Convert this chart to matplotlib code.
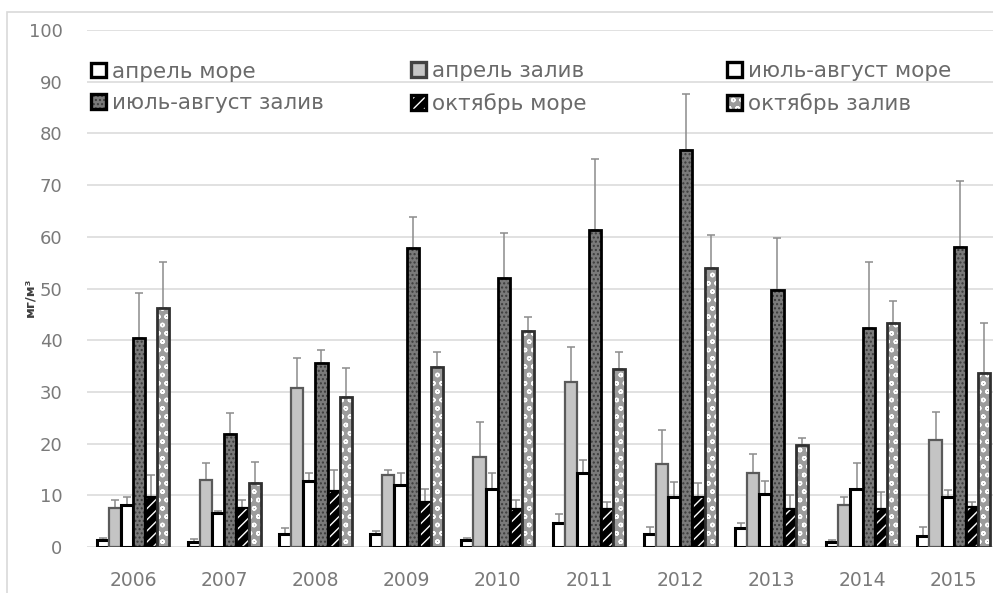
import matplotlib
matplotlib.use("Agg")
import matplotlib.pyplot as plt
import matplotlib.patches as mpatches
from matplotlib.legend_handler import HandlerTuple
import numpy as np

years = ["2006", "2007", "2008", "2009", "2010", "2011", "2012", "2013", "2014", "2015"]
series_names = ["апрель море", "апрель залив", "июль-август море",
                "июль-август залив", "октябрь море", "октябрь залив"]

apr_sea = [1.4, 1.0, 2.6, 2.6, 1.4, 4.6, 2.6, 3.6, 1.0, 2.1]
apr_sea_top = [1.8, 1.6, 3.6, 3.1, 1.7, 6.3, 3.9, 4.6, 1.3, 3.9]
apr_bay = [7.6, 13.0, 30.7, 13.9, 17.5, 32.0, 16.0, 14.4, 8.1, 20.7]
apr_bay_top = [9.1, 16.2, 36.6, 14.9, 24.2, 38.7, 22.6, 17.9, 9.7, 26.2]
jul_sea = [8.1, 6.5, 12.8, 11.9, 11.3, 14.4, 9.7, 10.2, 11.3, 9.7]
jul_sea_top = [9.6, 6.9, 14.3, 14.3, 14.3, 16.8, 12.6, 12.8, 16.2, 11.0]
jul_bay = [40.5, 21.8, 35.6, 57.9, 52.0, 61.3, 76.8, 49.8, 42.3, 58.1]
jul_bay_top = [49.2, 25.9, 38.1, 63.9, 60.8, 75.0, 87.6, 59.7, 55.2, 70.7]
oct_sea = [9.7, 7.6, 10.9, 8.8, 7.3, 7.3, 9.7, 7.3, 7.3, 7.7]
oct_sea_top = [13.9, 9.1, 14.9, 11.3, 9.1, 8.8, 12.4, 10.1, 10.7, 8.8]
oct_bay = [46.3, 12.3, 29.1, 34.9, 41.8, 34.4, 54.0, 19.7, 43.4, 33.6]
oct_bay_top = [55.1, 16.5, 34.6, 37.8, 44.5, 37.8, 60.3, 21.0, 47.5, 43.3]

y_ticks = [0, 10, 20, 30, 40, 50, 60, 70, 80, 90, 100]
y_label = "мг/м³"

values = [apr_sea, apr_bay, jul_sea, jul_bay, oct_sea, oct_bay]
tops = [apr_sea_top, apr_bay_top, jul_sea_top, jul_bay_top, oct_sea_top, oct_bay_top]

# style: (facecolor, hatch, hatchcolor, edgecolor, edge lw)
styles = [
    ("white", None, None, "black", 2.2),
    ("#c4c4c4", None, None, "#5a5a5a", 1.6),
    ("white", None, None, "black", 2.2),
    ("#7a7a7a", "....", "#3c3c3c", "black", 2.0),
    ("black", "///", "white", "black", 1.6),
    ("#9c9c9c", "oo", "white", "#303030", 2.0),
]

plt.rcParams['font.family'] = ['DejaVu Sans']
plt.rcParams['hatch.linewidth'] = 1.0

W, H = 993, 593
fig = plt.figure(figsize=(W / 100, H / 100), dpi=100)
fig.patch.set_facecolor("white")

# outer chart border
fig.add_artist(mpatches.Rectangle((7 / W, -0.1), 1.2, (H - 12) / H + 0.1,
                                  transform=fig.transFigure, fill=False,
                                  edgecolor="#d9d9d9", linewidth=1.2))

ax_left, ax_right = 87.4, 999.4
ax_bottom, ax_top = 547, 30
ax = fig.add_axes([ax_left / W, (H - ax_bottom) / H,
                   (ax_right - ax_left) / W, (ax_bottom - ax_top) / H])

x = np.arange(len(years))
w = 0.8 / 6
handles = []
for i, (vals, tp, st) in enumerate(zip(values, tops, styles)):
    fc, hatch, hc, ec, lw = st
    pos = x + (i - 2.5) * w
    vals = np.array(vals)
    up = np.array(tp) - vals
    if hatch:
        ax.bar(pos, vals, width=w, facecolor=fc, edgecolor=hc, hatch=hatch,
               linewidth=0, zorder=3)
        ax.bar(pos, vals, width=w, fill=False, edgecolor=ec, linewidth=lw, zorder=4)
        h = (mpatches.Patch(facecolor=fc, edgecolor=hc, hatch=hatch, linewidth=0),
             mpatches.Patch(fill=False, edgecolor="black", linewidth=2.4))
    else:
        h = (mpatches.Patch(facecolor=fc, edgecolor="black" if fc == "white" else "#404040",
                            linewidth=2.4),)
        ax.bar(pos, vals, width=w, facecolor=fc, edgecolor=ec, linewidth=lw, zorder=3)
    ax.errorbar(pos, vals, yerr=[np.zeros_like(up), up], fmt="none",
                ecolor="#8c8c8c", elinewidth=1.1, capsize=3, capthick=1.1, zorder=2)
    handles.append(h)

ax.set_xlim(-0.5, len(years) - 0.5)
ax.set_ylim(0, 100)
ax.set_yticks(y_ticks)
ax.set_xticks(x)
ax.set_xticklabels(years)
ax.tick_params(axis="both", length=0, colors="#7a7a7a", labelsize=13)
ax.tick_params(axis="x", labelsize=13.5, pad=17)
ax.tick_params(axis="y", pad=18)
ax.grid(axis="y", color="#dcdcdc", linewidth=1.2, zorder=0)
ax.set_axisbelow(True)
for s in ax.spines.values():
    s.set_visible(False)

fig.text(30 / W, (H - 297) / H, y_label, rotation=90, ha="center", va="center",
         fontsize=9.5, fontweight="bold", color="#404040")

# legend: three columns at fixed positions, rows ordered like the original
col_x = [(91 - ax_left) / (ax_right - ax_left),
         (411 - ax_left) / (ax_right - ax_left),
         (727 - ax_left) / (ax_right - ax_left)]
yc = ((ax_bottom - 87.5) / (ax_bottom - ax_top))
for c in range(3):
    idx = [c, c + 3]
    lg = ax.legend([handles[k] for k in idx], [series_names[k] for k in idx],
                   handler_map={tuple: HandlerTuple(ndivide=1, pad=0)},
                   loc="center left", bbox_to_anchor=(col_x[c], yc), frameon=False,
                   fontsize=15.5, labelcolor="#6a6a6a", handlelength=0.68,
                   handleheight=0.68, handletextpad=0.3, labelspacing=0.55,
                   borderaxespad=0, borderpad=0)
    if c < 2:
        ax.add_artist(lg)

fig.savefig("out.png", dpi=100, facecolor="white")
